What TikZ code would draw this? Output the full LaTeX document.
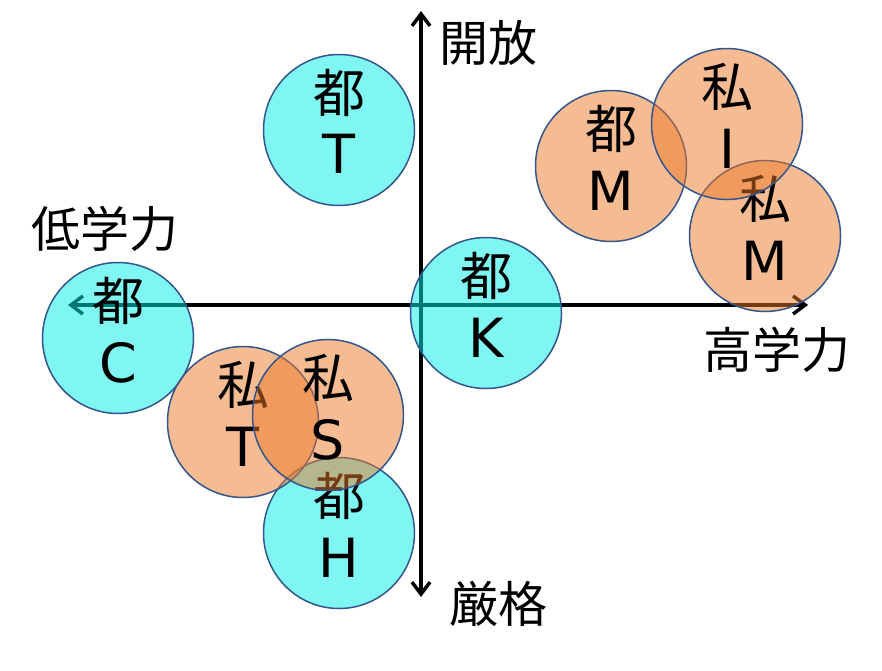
\documentclass[tikz,border=0pt]{standalone}
\usepackage{fontspec}
\newfontfamily\jpfont{Noto Sans CJK JP}
\newfontfamily\latfont{DejaVu Sans}
\usetikzlibrary{arrows.meta}
\definecolor{cyanfill}{RGB}{0,238,228}
\definecolor{orfill}{RGB}{235,121,41}
\definecolor{edgecol}{RGB}{52,86,140}
\begin{document}
\begin{tikzpicture}[x=1pt,y=-1pt,
  axisline/.style={line width=3.5pt, {Straight Barb[length=12pt,width=18pt]}-{Straight Barb[length=12pt,width=18pt]}},
  bub/.style={circle, draw=edgecol, line width=1.5pt, minimum size=151pt, inner sep=0pt, fill opacity=0.5},
  tobub/.style={bub, fill=cyanfill},
  shibub/.style={bub, fill=orfill},
  kj/.style={font=\jpfont\fontsize{52pt}{60pt}\selectfont, inner sep=0pt},
  lt/.style={font=\latfont\fontsize{54pt}{60pt}\selectfont, inner sep=0pt},
  axlab/.style={font=\jpfont\fontsize{49pt}{56pt}\selectfont, inner sep=0pt}]
\useasboundingbox (0,0) rectangle (882,670);

% axes
\coordinate (ytop) at (421,11);
\coordinate (ybot) at (421,597);
\coordinate (xl) at (68,305);
\coordinate (xr) at (808,305);
\draw[axisline] (ybot) -- (ytop);
\draw[axisline] (xl) -- (xr);

% axis labels
\node[axlab] (open) at (488,43) {開放};
\node[axlab] (strict) at (498,604) {厳格};
\node[axlab] (low) at (105,229) {低学力};
\node[axlab] (high) at (777,350) {高学力};

% bubbles
\node[tobub] (toT) at (339,130) {};
\node[kj] (toTk) at ([yshift=37pt]toT.center) {都};
\node[lt] (toTl) at ([yshift=-24pt]toT.center) {T};

\node[tobub] (toC) at (118,338) {};
\node[kj] (toCk) at ([yshift=37pt]toC.center) {都};
\node[lt] (toCl) at ([yshift=-25pt]toC.center) {C};

\node[tobub] (toK) at (486,313) {};
\node[kj] (toKk) at ([yshift=37pt]toK.center) {都};
\node[lt] (toKl) at ([yshift=-25pt]toK.center) {K};

\node[tobub] (toH) at (339,533) {};
\node[kj] (toHk) at ([yshift=37pt]toH.center) {都};
\node[lt] (toHl) at ([yshift=-25pt]toH.center) {H};

\node[shibub] (shiT) at (243,422) {};
\node[kj] (shiTk) at ([yshift=37pt]shiT.center) {私};
\node[lt] (shiTl) at ([yshift=-25pt]shiT.center) {T};

\node[shibub] (shiS) at (328,415) {};
\node[kj] (shiSk) at ([yshift=37pt]shiS.center) {私};
\node[lt] (shiSl) at ([yshift=-25pt]shiS.center) {S};

\node[shibub] (toM) at (611,166) {};
\node[kj] (toMk) at ([yshift=37pt]toM.center) {都};
\node[lt] (toMl) at ([yshift=-25pt]toM.center) {M};

\node[shibub] (shiM) at (765,236) {};
\node[kj] (shiMk) at ([yshift=37pt]shiM.center) {私};
\node[lt] (shiMl) at ([yshift=-25pt]shiM.center) {M};

\node[shibub] (shiI) at (727,124) {};
\node[kj] (shiIk) at ([yshift=37pt]shiI.center) {私};
\node[lt] (shiIl) at ([yshift=-25pt]shiI.center) {I};
\end{tikzpicture}
\end{document}
